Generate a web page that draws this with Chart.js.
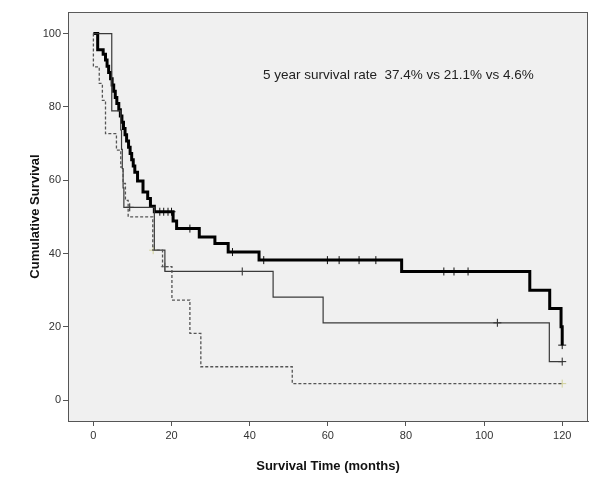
<!DOCTYPE html>
<html>
<head>
<meta charset="utf-8">
<script src="https://cdn.jsdelivr.net/npm/chart.js@4.4.1/dist/chart.umd.min.js"></script>
<style>
html,body{margin:0;padding:0;background:#fff;}
canvas{display:block;}
</style>
</head>
<body>
<canvas id="c" width="600" height="482"></canvas>
<script>
// ---- Data ----
const xTicks = [0, 20, 40, 60, 80, 100, 120];
const yTicks = [0, 20, 40, 60, 80, 100];

// Group 1 (thick solid)
const thickT = [0, 1.1, 2.5, 3.1, 3.5, 3.9, 4.4, 4.8, 5.2, 5.6, 6.0, 6.5, 6.9, 7.3, 7.7, 8.1, 8.5, 9.0, 9.4, 9.8, 10.2, 10.6, 11.3, 12.7, 13.9, 14.6, 15.6, 20.4, 21.3, 27.1, 31.1, 34.5, 42.4, 78.9, 111.7, 116.8, 119.7, 120];
const thickS = [100, 95.6, 94.4, 92.8, 91.1, 89.4, 87.7, 86.0, 84.3, 82.6, 80.9, 79.2, 77.5, 75.8, 74.1, 72.4, 70.7, 69.0, 67.3, 65.6, 63.9, 62.2, 59.8, 56.8, 55.0, 52.9, 51.4, 48.9, 46.8, 44.5, 42.7, 40.4, 38.2, 35.1, 30.0, 25.0, 20.0, 15.0];
const thickCensorT = [17.0, 18.0, 19.1, 20.0, 24.7, 35.6, 43.6, 59.9, 62.9, 68.0, 72.3, 89.7, 92.3, 95.9, 120];

// Group 2 (thin solid)
const thinT = [0, 4.7, 7.0, 7.2, 7.4, 7.6, 7.8, 15.6, 18.3, 46.0, 58.8, 116.7, 120];
const thinS = [100, 78.9, 73.7, 68.4, 63.2, 57.9, 52.6, 40.9, 35.1, 28.1, 21.1, 10.5, 10.5];
const thinCensorT = [9.3, 38.1, 103.4, 120];

// Group 3 (dashed)
const dashT = [0, 0, 1.5, 2.3, 3.1, 5.9, 7.0, 7.6, 8.2, 8.9, 15.2, 17.7, 20.1, 24.7, 27.5, 50.9, 120];
const dashS = [100, 90.9, 86.4, 81.8, 72.7, 68.2, 63.6, 59.1, 54.5, 50.0, 40.9, 36.4, 27.3, 18.2, 9.1, 4.5, 4.5];
const dashCensorT = [15.3, 18.3, 120];

const annotationText = "5 year survival rate  37.4% vs 21.1% vs 4.6%";
const xTitle = "Survival Time (months)";
const yTitle = "Cumulative Survival";

// ---- helpers ----
function pts(T, S) { return T.map((t, i) => ({x: t, y: S[i]})); }
function stepValue(T, S, t) {
  let v = S[0];
  for (let i = 0; i < T.length; i++) { if (T[i] <= t) v = S[i]; }
  return v;
}
function censorPts(CT, T, S) { return CT.map(t => ({x: t, y: stepValue(T, S, t)})); }

const FONT = "'Liberation Sans', Arial, sans-serif";

const bgPlugin = {
  id: 'bg',
  beforeDraw(chart) {
    const {ctx, chartArea: a} = chart;
    ctx.save();
    ctx.fillStyle = '#ffffff';
    ctx.fillRect(0, 0, chart.width, chart.height);
    ctx.fillStyle = '#f0f0f0';
    ctx.fillRect(a.left, a.top, a.right - a.left, a.bottom - a.top);
    ctx.strokeStyle = '#5a5a5a';
    ctx.lineWidth = 1;
    ctx.strokeRect(a.left + 0.5, a.top + 0.5, a.right - a.left - 1, a.bottom - a.top);
    ctx.restore();
  },
  afterDatasetsDraw(chart) {
    const {ctx} = chart;
    const xs = chart.scales.x, ys = chart.scales.y;
    ctx.save();
    ctx.fillStyle = '#222';
    ctx.font = "13.5px " + FONT;
    ctx.textAlign = 'left';
    ctx.textBaseline = 'middle';
    ctx.fillText(annotationText, xs.getPixelForValue(43.4), ys.getPixelForValue(88.6));
    ctx.restore();
  }
};

new Chart(document.getElementById('c'), {
  type: 'line',
  data: {
    datasets: [
      {label: 'g3', data: pts(dashT, dashS), borderColor: '#555', borderWidth: 1.3, borderDash: [3, 2], stepped: true, pointRadius: 0, fill: false},
      {label: 'g2', data: pts(thinT, thinS), borderColor: '#3a3a3a', borderWidth: 1.2, stepped: true, pointRadius: 0, fill: false},
      {label: 'g1', data: pts(thickT, thickS), borderColor: '#000', borderWidth: 3, stepped: true, pointRadius: 0, fill: false},
      {label: 'c3', data: censorPts(dashCensorT, dashT, dashS), showLine: false, pointStyle: 'cross', pointRadius: 4, borderColor: ['#d2d29a', '#777', '#d2d29a'], borderWidth: 1},
      {label: 'c2', data: censorPts(thinCensorT, thinT, thinS), showLine: false, pointStyle: 'cross', pointRadius: 4, borderColor: '#222', borderWidth: 1},
      {label: 'c1', data: censorPts(thickCensorT, thickT, thickS), showLine: false, pointStyle: 'cross', pointRadius: 4, borderColor: '#111', borderWidth: 1}
    ]
  },
  options: {
    responsive: false,
    animation: false,
    devicePixelRatio: 1,
    layout: {padding: {top: 12, right: 12, left: 0, bottom: 0}},
    plugins: {legend: {display: false}, tooltip: {enabled: false}},
    scales: {
      x: {
        type: 'linear', min: -6.5, max: 126.6,
        afterBuildTicks: s => { s.ticks = xTicks.map(v => ({value: v})); },
        afterFit: s => { s.height = 61; },
        grid: {drawOnChartArea: false, drawTicks: true, tickLength: 5, color: '#555'},
        border: {display: true, color: '#555', width: 1},
        ticks: {color: '#333', font: {family: FONT, size: 11}, padding: 3, maxRotation: 0},
        title: {display: true, text: xTitle, color: '#111', font: {family: FONT, size: 13, weight: 'bold'}, padding: {top: 0, bottom: 8}}
      },
      y: {
        type: 'linear', min: -5.7, max: 105.9,
        afterBuildTicks: s => { s.ticks = yTicks.map(v => ({value: v})); },
        afterFit: s => { s.width = 68; },
        grid: {drawOnChartArea: false, drawTicks: true, tickLength: 5, color: '#555'},
        border: {display: true, color: '#555', width: 1},
        ticks: {color: '#333', font: {family: FONT, size: 11}, padding: 2},
        title: {display: true, text: yTitle, color: '#111', font: {family: FONT, size: 13, weight: 'bold'}, padding: {top: 28, bottom: 0}}
      }
    }
  },
  plugins: [bgPlugin]
});
</script>
</body>
</html>
